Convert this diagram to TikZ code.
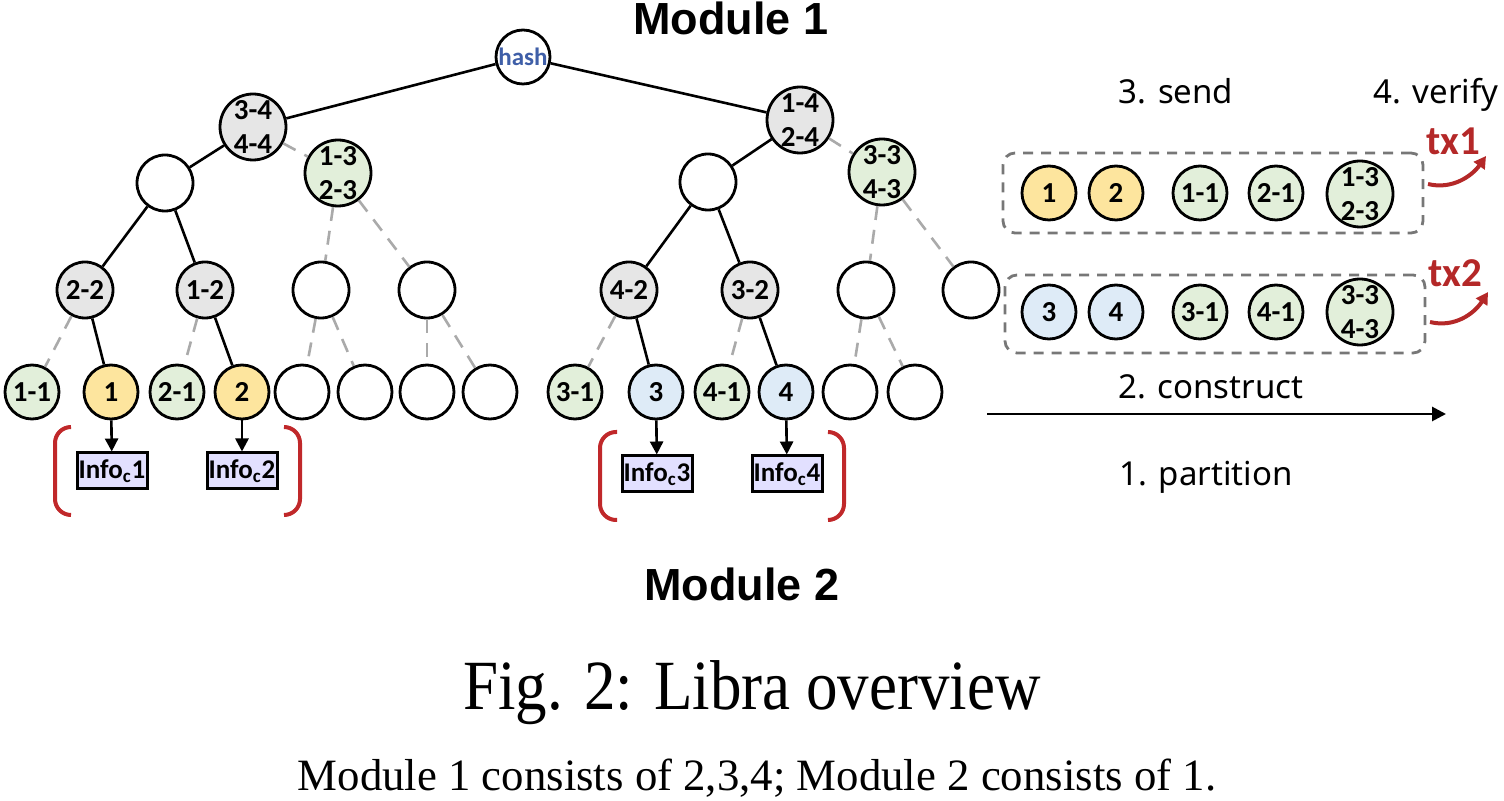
\documentclass[tikz,border=0pt]{standalone}
\usepackage{fontspec}
\usepackage{graphicx}
\setmainfont{Liberation Serif}
\newfontfamily\labfont{Carlito}
\newfontfamily\headfont{Liberation Sans}
\newfontfamily\stepfont{Noto Sans}
\usetikzlibrary{arrows.meta}
\definecolor{ndgray}{HTML}{E6E6E6}
\definecolor{ndgreen}{HTML}{E2EFDA}
\definecolor{ndyellow}{HTML}{FDE59E}
\definecolor{ndblue}{HTML}{DEEBF7}
\definecolor{infofill}{HTML}{E2E0FF}
\definecolor{dashgray}{HTML}{AAAAAA}
\definecolor{boxgray}{HTML}{777777}
\definecolor{brred}{HTML}{C0282A}
\definecolor{txred}{HTML}{B42828}
\definecolor{hashblue}{HTML}{3F5FA8}
\begin{document}
\begin{tikzpicture}[x=0.5pt,y=-0.5pt,
  nd/.style={circle,draw=black,line width=1.4pt,inner sep=0pt,fill=white,
    font=\labfont\bfseries\fontsize{14.5}{14}\selectfont,align=center},
  leaf/.style={nd,minimum size=27pt},
  mid/.style={nd,minimum size=28pt},
  big/.style={nd,minimum size=33pt},
  gr/.style={fill=ndgray},
  gn/.style={fill=ndgreen},
  yl/.style={fill=ndyellow},
  bl/.style={fill=ndblue},
  edge/.style={line width=1.3pt,black},
  dedge/.style={line width=1.3pt,dashgray,dash pattern=on 7pt off 5pt},
  infobox/.style={draw=black,line width=1.5pt,fill=infofill,inner sep=0pt,
    minimum width=35pt,minimum height=18pt,font=\labfont\bfseries\fontsize{13.5}{14}\selectfont},
  infoarrow/.style={line width=1.3pt,-{Triangle[length=6.5pt,width=6.5pt]}},
  bracket/.style={line width=2pt,brred,rounded corners=8pt},
  dbox/.style={draw=boxgray,line width=1.4pt,dash pattern=on 5pt off 4pt,rounded corners=6pt,
    minimum width=210pt,inner sep=0pt},
  steptext/.style={font=\stepfont\fontsize{16.5}{18}\selectfont,inner sep=0pt,anchor=base},
  modtext/.style={font=\headfont\bfseries\fontsize{22.5}{24}\selectfont,inner sep=0pt,anchor=base},
  txtext/.style={font=\labfont\bfseries\fontsize{20.5}{22}\selectfont,text=txred,inner sep=0pt,anchor=base},
  redarrow/.style={line width=2pt,txred,-{Triangle[length=6pt,width=6.5pt]}}
]
\useasboundingbox (0,0) rectangle (1504,801);

% titles
\node[modtext] (m1) at (731,35) {Module 1};
\node[modtext] (m2) at (742,600) {Module 2};

% tree nodes
\node[leaf,font=\labfont\bfseries\fontsize{12.5}{13}\selectfont,text=hashblue] (h) at (523,57) {hash};
\node[big,gr] (A) at (253,127) {3-4\\[3pt]4-4};
\node[big,gr] (B) at (800,120) {1-4\\[3pt]2-4};
\node[mid] (L1) at (165,183) {};
\node[big,gn] (G1) at (338,173) {1-3\\[3pt]2-3};
\node[mid] (R1) at (708,182) {};
\node[big,gn] (G2) at (882,172) {3-3\\[3pt]4-3};

\node[mid,gr] (n22) at (85,290) {2-2};
\node[mid,gr] (n12) at (205,290) {1-2};
\node[mid] (e1) at (321,290) {};
\node[mid] (e2) at (427,290) {};
\node[mid,gr] (n42) at (629,290) {4-2};
\node[mid,gr] (n32) at (750,290) {3-2};
\node[mid] (e3) at (866,290) {};
\node[mid] (e4) at (971,290) {};

\node[leaf,gn] (l11) at (32,392) {1-1};
\node[leaf,yl] (l1) at (111,392) {1};
\node[leaf,gn] (l21) at (177,392) {2-1};
\node[leaf,yl] (l2) at (242,392) {2};
\node[leaf] (e5) at (302,392) {};
\node[leaf] (e6) at (365,392) {};
\node[leaf] (e7) at (427,392) {};
\node[leaf] (e8) at (490,392) {};
\node[leaf,gn] (l31) at (575,392) {3-1};
\node[leaf,bl] (l3) at (656,392) {3};
\node[leaf,gn] (l41) at (722,392) {4-1};
\node[leaf,bl] (l4) at (786,392) {4};
\node[leaf] (e9) at (850,392) {};
\node[leaf] (e10) at (915,392) {};

% solid edges
\draw[edge] (h) -- (A);
\draw[edge] (h) -- (B);
\draw[edge] (A) -- (L1);
\draw[edge] (L1) -- (n22);
\draw[edge] (L1) -- (n12);
\draw[edge] (n22) -- (l1);
\draw[edge] (n12) -- (l2);
\draw[edge] (B) -- (R1);
\draw[edge] (R1) -- (n42);
\draw[edge] (R1) -- (n32);
\draw[edge] (n42) -- (l3);
\draw[edge] (n32) -- (l4);

% dashed edges
\draw[dedge] (A) -- (G1);
\draw[dedge] (G1) -- (e1);
\draw[dedge] (G1) -- (e2);
\draw[dedge] (n22) -- (l11);
\draw[dedge] (n12) -- (l21);
\draw[dedge] (e1) -- (e5);
\draw[dedge] (e1) -- (e6);
\draw[dedge] (e2) -- (e7);
\draw[dedge] (e2) -- (e8);
\draw[dedge] (B) -- (G2);
\draw[dedge] (G2) -- (e3);
\draw[dedge] (G2) -- (e4);
\draw[dedge] (n42) -- (l31);
\draw[dedge] (n32) -- (l41);
\draw[dedge] (e3) -- (e9);
\draw[dedge] (e3) -- (e10);

% info boxes
\node[infobox] (i1) at (112,471) {Info\textsubscript{c}1};
\node[infobox] (i2) at (242,471) {Info\textsubscript{c}2};
\node[infobox] (i3) at (657,474) {Info\textsubscript{c}3};
\node[infobox] (i4) at (787,474) {Info\textsubscript{c}4};
\draw[infoarrow] (l1) -- (i1);
\draw[infoarrow] (l2) -- (i2);
\draw[infoarrow] (l3) -- (i3);
\draw[infoarrow] (l4) -- (i4);

% brackets
\draw[bracket] (71,427) -- (55,427) -- (55,515) -- (71,515);
\draw[bracket] (284,427) -- (300,427) -- (300,515) -- (284,515);
\draw[bracket] (617,432) -- (600,432) -- (600,520) -- (617,520);
\draw[bracket] (828,432) -- (844,432) -- (844,520) -- (828,520);

% right side: send boxes
\node[steptext] (send) at (1176,104) {3. send};
\node[steptext] (verify) at (1436,104) {4. verify};

\node[dbox,minimum height=40pt] (box1) at (1213,193) {};
\node[dbox,minimum height=39pt] (box2) at (1215,314) {};

\node[leaf,yl] (s1) at (1049,193) {1};
\node[leaf,yl] (s2) at (1116,193) {2};
\node[leaf,gn] (s11) at (1200,193) {1-1};
\node[leaf,gn] (s21) at (1276,193) {2-1};
\node[big,gn] (s13) at (1360,194) {1-3\\[3pt]2-3};

\node[leaf,bl] (s3) at (1049,312) {3};
\node[leaf,bl] (s4) at (1116,312) {4};
\node[leaf,gn] (s31) at (1200,312) {3-1};
\node[leaf,gn] (s41) at (1276,312) {4-1};
\node[big,gn] (s33) at (1360,312) {3-3\\[3pt]4-3};

\node[txtext] (tx1) at (1453,155) {tx1};
\node[txtext] (tx2) at (1455,287) {tx2};
\coordinate (a1s) at (1428,184);
\coordinate (a1e) at (1486,156);
\coordinate (a2s) at (1430,322);
\coordinate (a2e) at (1488,292);
\draw[redarrow] (a1s) .. controls (1452,190) and (1472,176) .. (a1e);
\draw[redarrow] (a2s) .. controls (1454,328) and (1474,314) .. (a2e);

% construct arrow
\node[steptext] (construct) at (1211,399) {2. construct};
\coordinate (cA) at (987,414);
\coordinate (cB) at (1446,414);
\draw[line width=1.4pt,-{Triangle[length=7pt,width=7pt]}] (cA) -- (cB);
\node[steptext] (partition) at (1206,486) {1. partition};

% captions
\node[inner sep=0pt,anchor=base,font=\fontsize{31.5}{34}\selectfont] (cap1) at (752,709) {\scalebox{1}[1.12]{Fig. 2: Libra overview}};
\node[inner sep=0pt,anchor=base,font=\fontsize{22.4}{24}\selectfont] (cap2) at (757,790) {Module 1 consists of 2,3,4; Module 2 consists of 1.};
\end{tikzpicture}
\end{document}
